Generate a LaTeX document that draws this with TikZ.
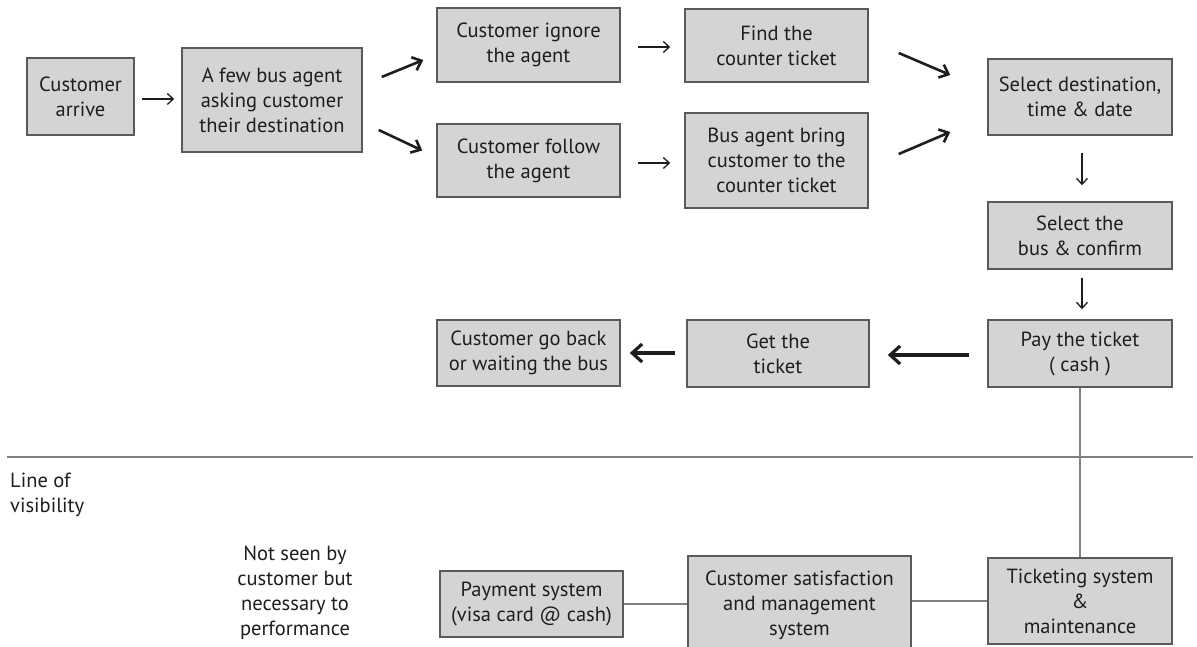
\documentclass[tikz,border=0pt]{standalone}
\usepackage{fontspec}
\setmainfont{PT Sans}
\usetikzlibrary{arrows.meta,calc}
\definecolor{boxfill}{RGB}{212,212,214}
\definecolor{boxline}{RGB}{90,90,90}
\definecolor{txt}{RGB}{30,30,30}
\definecolor{rule}{RGB}{128,128,128}
\tikzset{
  stepbox/.style={draw=boxline, line width=1.5pt, fill=boxfill, align=center,
    inner sep=0pt, text=txt, font=\fontsize{20.5}{25}\selectfont},
  thinarr/.style={draw=txt, line width=1.3pt, -{Straight Barb[length=6pt,width=11pt,line width=1.3pt]}},
  medarr/.style={draw=txt, line width=2.6pt, -{Straight Barb[length=8pt,width=14pt,line width=2.6pt]}},
  thickarr/.style={draw=txt, line width=3.2pt, -{Straight Barb[length=10pt,width=18pt,line width=3.2pt]}},
  link/.style={draw=rule, line width=2pt},
  label/.style={text=txt, font=\fontsize{20.5}{25}\selectfont, inner sep=0pt},
}
\begin{document}
\begin{tikzpicture}[x=1pt,y=-1pt]
\useasboundingbox (0,0) rectangle (1197,647);
% boxes
\node[stepbox, minimum width=107pt, minimum height=77pt] (arrive) at (80.5,96.5) {Customer\\arrive};
\node[stepbox, minimum width=180pt, minimum height=104pt] (agent) at (272,100) {A few bus agent\\asking customer\\their destination};
\node[stepbox, minimum width=183pt, minimum height=74pt] (ignore) at (528.5,45) {Customer ignore\\the agent};
\node[stepbox, minimum width=183pt, minimum height=73pt] (follow) at (528.5,160.5) {Customer follow\\the agent};
\node[stepbox, minimum width=183pt, minimum height=73pt] (find) at (776.5,45.5) {Find the\\counter ticket};
\node[stepbox, minimum width=183pt, minimum height=95pt] (bring) at (776.5,160.5) {Bus agent bring\\customer to the\\counter ticket};
\node[stepbox, minimum width=184pt, minimum height=76pt] (seldest) at (1080,97) {Select destination,\\time \& date};
\node[stepbox, minimum width=184pt, minimum height=67pt] (selbus) at (1080,235.5) {Select the\\bus \& confirm};
\node[stepbox, minimum width=184pt, minimum height=67pt] (pay) at (1080,353.5) {Pay the ticket\\( cash )};
\node[stepbox, minimum width=182pt, minimum height=67pt] (get) at (778,353.5) {Get the\\ticket};
\node[stepbox, minimum width=183pt, minimum height=66pt] (goback) at (528.5,353) {Customer go back\\or waiting the bus};
% line of visibility
\coordinate (visL) at (7,457);
\coordinate (visR) at (1193,457);
\draw[link] (visL) -- (visR);
\node[label, anchor=north west, align=left] (vislabel) at (10,473) {Line of\\visibility};
\node[label, align=center] (notseen) at (295,593) {Not seen by\\customer but\\necessary to\\performance};
% support boxes
\node[stepbox, minimum width=183pt, minimum height=66pt] (payment) at (531.5,604) {Payment system\\(visa card @ cash)};
\node[stepbox, minimum width=223pt, minimum height=98pt] (satisf) at (799.5,605) {Customer satisfaction\\and management\\system};
\node[stepbox, minimum width=184pt, minimum height=86pt] (ticketing) at (1080,601) {Ticketing system\\\&\\maintenance};
% links
\draw[link] (payment.east) -- (payment.east -| satisf.west);
\draw[link] (satisf.east |- ticketing.west) -- (ticketing.west);
\draw[link] (pay.south) -- (ticketing.north);
% arrows
\draw[thinarr] ($(arrive.east)+(7,2.5)$) -- ($(agent.west)+(-7,-1)$);
\draw[medarr] ($(agent.east)+(19,-23)$) -- ($(ignore.west)+(-13,15)$);
\draw[medarr] ($(agent.east)+(16,30)$) -- ($(follow.west)+(-14,-10)$);
\draw[thinarr] ($(ignore.east)+(17,2)$) -- ($(find.west)+(-14,1.5)$);
\draw[thinarr] ($(follow.east)+(17,2.5)$) -- ($(bring.west)+(-14,2.5)$);
\draw[medarr] ($(find.east)+(30,7.5)$) -- ($(seldest.west)+(-37,-22)$);
\draw[medarr] ($(bring.east)+(30,-6.5)$) -- ($(seldest.west)+(-37,35)$);
\draw[thinarr] ($(seldest.south)+(2,17)$) -- ($(selbus.north)+(2,-16)$);
\draw[thinarr] ($(selbus.south)+(2,8)$) -- ($(pay.north)+(2,-10)$);
\draw[thickarr] ($(pay.west)+(-18,1.5)$) -- ($(get.east)+(18,1.5)$);
\draw[thickarr] ($(get.west)+(-11,-0.5)$) -- ($(goback.east)+(9,0)$);
\end{tikzpicture}
\end{document}
